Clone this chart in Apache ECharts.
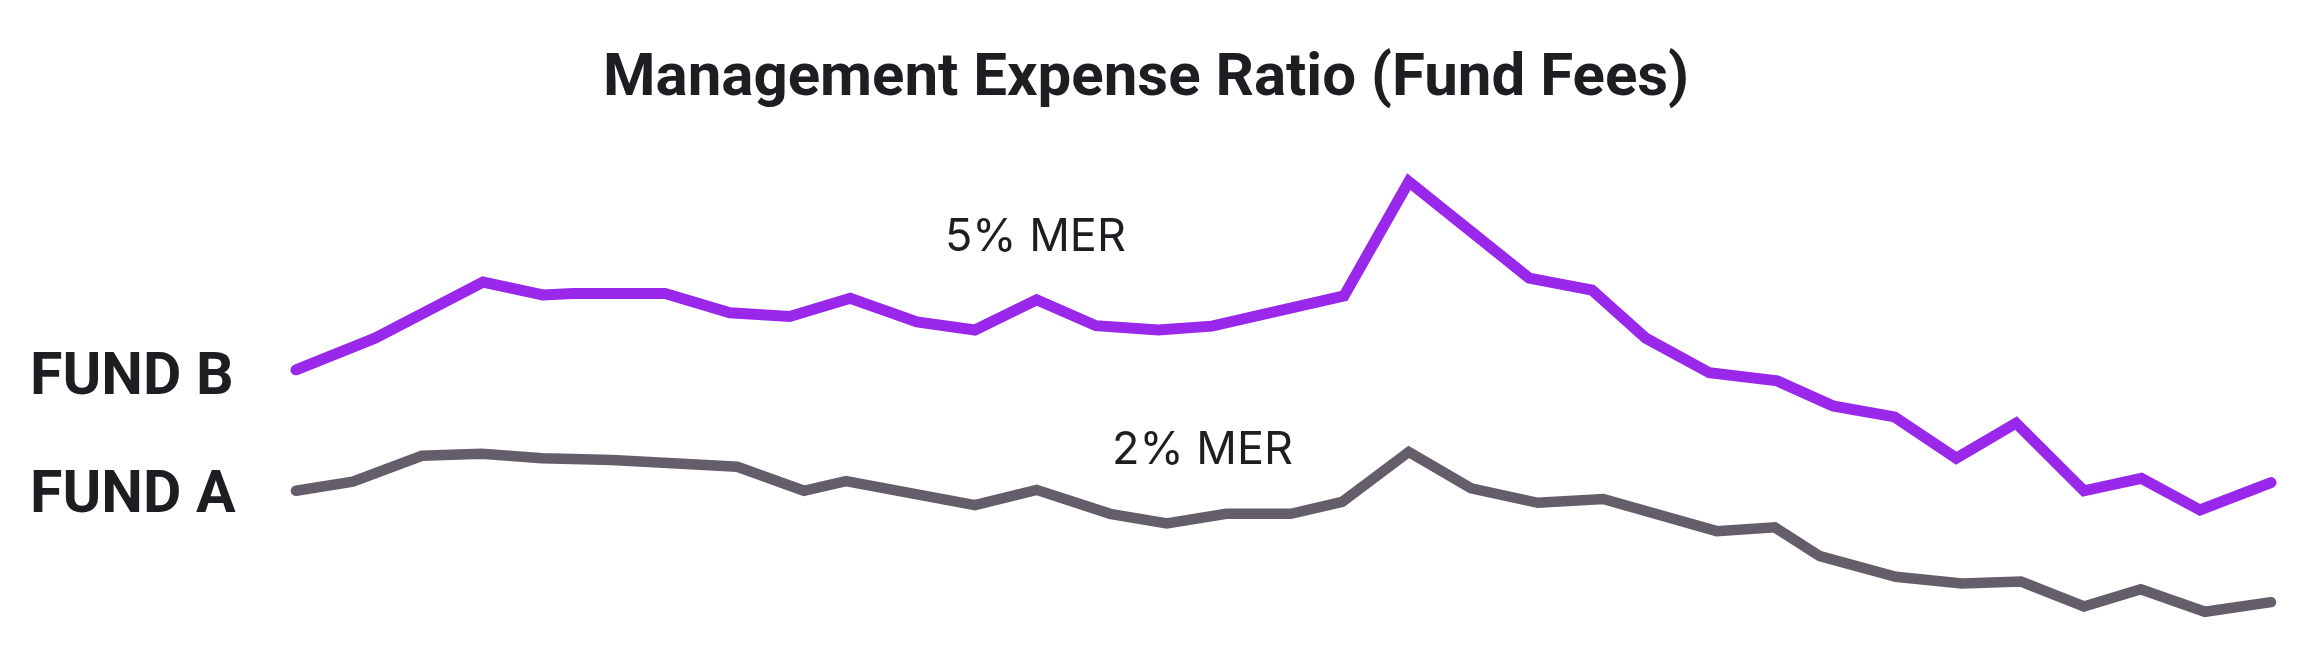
<!DOCTYPE html>
<html>
<head>
<meta charset="utf-8">
<script src="https://cdn.jsdelivr.net/npm/echarts@6/dist/echarts.min.js"></script>
<style>
html,body{margin:0;padding:0;background:#fff;}
#chart{width:2319px;height:654px;}
</style>
</head>
<body>
<div id="chart"></div>
<script>
// Period index (0..32) and relative value (0..100 index, hidden axis)
const fundBX = [0, 1.28, 3.03, 4.0, 4.49, 5.98, 7.03, 8.0, 8.98, 10.06, 11.0, 12.0, 12.96, 13.97, 14.84, 16.98, 18.03, 19.98, 21.0, 21.87, 22.9, 24.0, 24.9, 25.9, 26.9, 27.87, 28.97, 29.9, 30.85, 32];
const fundBY = [54.2, 60.8, 72.5, 69.8, 70.1, 70.1, 66.1, 65.3, 69.1, 64.2, 62.5, 68.8, 63.4, 62.5, 63.3, 69.6, 93.4, 73.3, 70.8, 60.8, 53.6, 51.9, 46.7, 44.4, 35.8, 43.1, 29.0, 31.6, 25.0, 30.7];
const fundAX = [0, 0.92, 2.04, 3.01, 3.99, 5.12, 7.15, 8.23, 8.91, 11.0, 12.0, 13.19, 14.11, 15.07, 16.12, 16.95, 18.03, 19.04, 20.12, 21.18, 23.02, 23.96, 24.69, 25.92, 26.99, 27.95, 28.97, 29.89, 30.93, 32];
const fundAY = [29.0, 30.9, 36.3, 36.7, 35.8, 35.4, 34.0, 29.0, 31.0, 26.0, 29.2, 24.2, 22.2, 24.2, 24.2, 26.7, 37.1, 29.5, 26.5, 27.3, 20.6, 21.4, 15.4, 11.1, 9.7, 10.1, 4.9, 8.5, 3.8, 5.8];
const seriesNames = ['FUND B', 'FUND A'];
const merLabels = ['5% MER', '2% MER'];
const titleText = 'Management Expense Ratio (Fund Fees)';

const pairs = (xs, ys) => xs.map((x, i) => [x, ys[i]]);
const chart = echarts.init(document.getElementById('chart'), null, {renderer: 'canvas'});
const dark = '#1f1d22';
const option = {
  backgroundColor: '#ffffff',
  animation: false,
  title: {
    text: titleText,
    left: 598, top: 45,
    textStyle: {fontFamily: 'Roboto', fontWeight: 'bold', fontSize: 60, color: dark}
  },
  grid: {left: 296, right: 48, top: 150, bottom: 24},
  xAxis: {type: 'value', min: 0, max: 32, show: false},
  yAxis: {type: 'value', min: 0, max: 100, show: false},
  series: [
    {
      name: seriesNames[0], type: 'line', data: pairs(fundBX, fundBY),
      symbol: 'none', clip: false,
      lineStyle: {color: '#9a28ea', width: 11, cap: 'round', join: 'miter'}
    },
    {
      name: seriesNames[1], type: 'line', data: pairs(fundAX, fundAY),
      symbol: 'none', clip: false,
      lineStyle: {color: '#645e6b', width: 10.5, cap: 'round', join: 'miter'}
    }
  ],
  graphic: [
    {type: 'text', left: 30, top: 350, style: {text: seriesNames[0], font: 'bold 59px Roboto', fill: dark}},
    {type: 'text', left: 30, top: 468, style: {text: seriesNames[1], font: 'bold 59px Roboto', fill: dark}},
    {type: 'text', left: 945, top: 215, style: {text: merLabels[0], font: '400 45px Inter', fill: dark}},
    {type: 'text', left: 1112, top: 428, style: {text: merLabels[1], font: '400 45px Inter', fill: dark}}
  ]
};
chart.setOption(option);
</script>
</body>
</html>
